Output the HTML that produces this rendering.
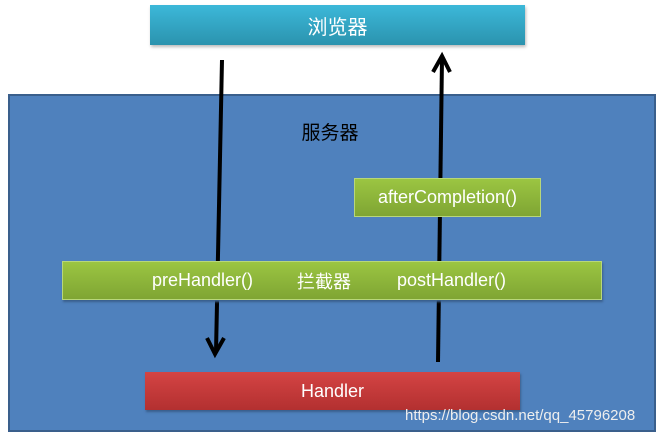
<!DOCTYPE html>
<html><head><style>
body{margin:0;width:659px;height:436px;background:#fff;position:relative;overflow:hidden;font-family:"Liberation Sans","Noto Sans CJK SC",sans-serif}
.b{position:absolute;box-sizing:border-box;display:flex;align-items:center;justify-content:center;color:#fff}
.t{position:absolute;color:#fff;font-size:18px;top:261px;height:39px;display:flex;align-items:center;white-space:nowrap}
</style></head><body>
<div class="b" style="left:150px;top:5px;width:375px;height:40px;background:linear-gradient(#3cb8d9,#2b93ae);font-size:20px;box-shadow:1px 2px 3px #bbb">浏览器</div>
<div class="b" style="left:8px;top:94px;width:648px;height:338px;background:#4f81bd;border:2px solid #3a5f8c"></div>
<svg style="position:absolute;left:0;top:0" width="659" height="436">
<line x1="222" y1="60" x2="216" y2="352" stroke="#000" stroke-width="4"/>
<polyline points="207,338 215,354 224,338" fill="none" stroke="#000" stroke-width="4"/>
<line x1="438" y1="362" x2="442" y2="58" stroke="#000" stroke-width="4"/>
<polyline points="433,72 442,56 450,72" fill="none" stroke="#000" stroke-width="4"/>
</svg>
<div class="b" style="left:280px;top:116px;width:100px;height:30px;color:#000;font-size:19px">服务器</div>
<div class="b" style="left:354px;top:178px;width:187px;height:39px;background:linear-gradient(#9bc542,#7fa533);font-size:18px;border:1px solid #b8d77a">afterCompletion()</div>
<div class="b" style="left:62px;top:261px;width:540px;height:39px;background:linear-gradient(#9bc542,#7fa533);border:1px solid #b8d77a;box-shadow:1px 2px 2px #3a5f8c"></div>
<div class="t" style="left:152px">preHandler()</div>
<div class="t" style="left:297px">拦截器</div>
<div class="t" style="left:397px">postHandler()</div>
<div class="b" style="left:145px;top:372px;width:375px;height:38px;background:linear-gradient(#d44444,#b33030);font-size:18px;box-shadow:1px 2px 2px #3a5f8c">Handler</div>
<div style="position:absolute;left:405px;top:407px;font-size:15px;color:#eee">https://blog.csdn.net/qq_45796208</div>
</body></html>
